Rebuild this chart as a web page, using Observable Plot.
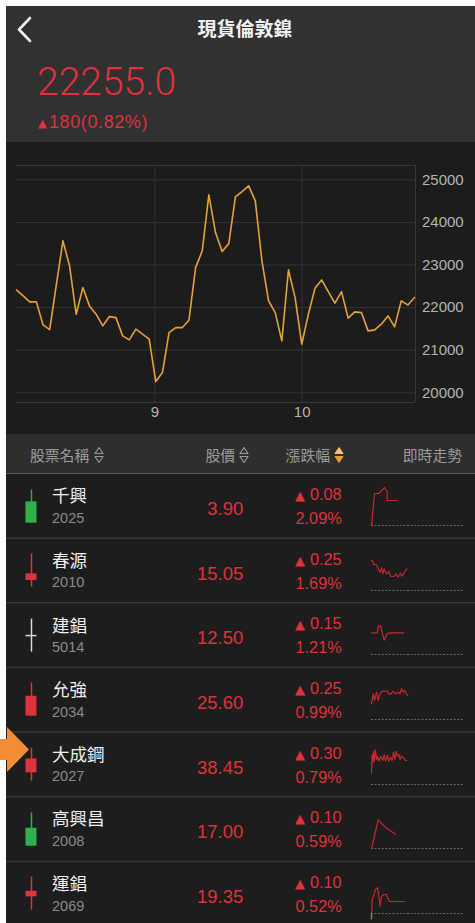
<!DOCTYPE html>
<html lang="zh-Hant">
<head>
<meta charset="utf-8">
<title>現貨倫敦鎳</title>
<script src="https://cdn.jsdelivr.net/npm/d3@7"></script>
<script src="https://cdn.jsdelivr.net/npm/@observablehq/plot@0.6"></script>
<style>
html,body{margin:0;padding:0;background:#ffffff;width:475px;height:923px;overflow:hidden;}
#page{position:relative;width:475px;height:923px;}
.abs{position:absolute;}
svg text{font-family:"Liberation Sans","Noto Sans CJK TC",sans-serif;}
</style>
</head>
<body>
<div id="page"></div>
<script>
// ---------------- DATA ----------------
const headerTitle = "現貨倫敦鎳";
const lastPrice = "22255.0";
const lastChange = "180(0.82%)";

// daily close of London nickel spot
const nickelValues = [
  22415, 22275, 22134, 22134, 21594, 21484, 22525, 23566, 22979, 21845,
  22470, 22040, 21845, 21570, 21789, 21765, 21336, 21242, 21493, 21375,
  21258, 20263, 20474, 21413, 21531, 21531, 21704, 22939, 23331, 24646,
  23761, 23315, 23502, 24599, 24723, 24857, 24505, 23096, 22157, 21883,
  21218, 22885, 22235, 21140, 21845, 22455, 22650, 22376, 22103, 22376,
  21751, 21899, 21883, 21453, 21477, 21610, 21805, 21547, 22157, 22063,
  22235
];
const xTickPos = [20.85, 43.07];
const xTickLabels = ["9", "10"];
const yTicks = [20000, 21000, 22000, 23000, 24000, 25000];

const columnLabels = ["股票名稱", "股價", "漲跌幅", "即時走勢"];

const stockNames   = ["千興", "春源", "建錩", "允強", "大成鋼", "高興昌", "運錩"];
const stockCodes   = ["2025", "2010", "5014", "2034", "2027", "2008", "2069"];
const stockPrices  = ["3.90", "15.05", "12.50", "25.60", "38.45", "17.00", "19.35"];
const stockChanges = ["0.08", "0.25", "0.15", "0.25", "0.30", "0.10", "0.10"];
const stockPcts    = ["2.09%", "1.69%", "1.21%", "0.99%", "0.79%", "0.59%", "0.52%"];

// day candles, normalised to the day's range (low = 0, high = 1)
const candleHigh  = [1, 1, 1, 1, 1, 1, 1];
const candleLow   = [0, 0, 0, 0, 0, 0, 0];
const candleOpen  = [0.64, 0.20, 0.50, 0.00, 0.25, 0.54, 0.40];
const candleClose = [0.00, 0.40, 0.50, 0.60, 0.67, 0.00, 0.57];

// intraday sparklines: [session %, change above previous close]
const spark2025 = [[0,0],[3.2,32],[7.9,32],[14,38],[16.8,34],[16.9,25],[28.3,25]];
const spark2010 = [[0,30],[1.4,29.3],[2.5,26],[5,26],[7.2,21.7],[9.3,18.3],[10.8,22.7],[12.2,16.7],[13.6,21.7],[15.1,18.3],[16.8,16.7],[18.6,19.3],[20.8,14],[24,14],[26.5,16.7],[28.7,13.3],[30.8,17.3],[33,14.3],[35.1,18],[36.6,20],[38,21.7]];
const spark5014 = [[0,21.7],[6.1,21.7],[7.2,28.3],[10,28.3],[11.5,21.7],[13.6,14.3],[16.8,21],[20.4,21.7],[34.8,21.7]];
const spark2034 = [[0,15.7],[1.8,25.7],[3.2,19],[5.4,27.3],[7.2,19],[9,25.7],[11.5,28.3],[16.8,28.3],[18.6,25.7],[21.1,25.7],[23.3,28.3],[25.8,25.7],[28.3,27.3],[30.5,25.7],[32.3,30.7],[34,27.3],[35.5,29],[37.6,25.7],[39,24]];
const spark2027 = [[0,11.7],[0.7,30],[1.4,21.7],[2.2,33.3],[3.2,23.3],[4.3,35],[5.4,25],[6.5,28.3],[7.9,23.3],[10,28.3],[12.2,24],[13.6,30],[15.1,23.3],[17.2,29.3],[18.6,23.3],[20.8,27.3],[22.2,24],[23.7,32.7],[25.1,25],[26.5,33.3],[28,28.3],[29.4,30],[30.8,25],[32.3,28.3],[34.4,26.7],[36.6,24],[38,24]];
const spark2008 = [[0,0],[7.2,28.7],[15.1,21],[25.8,14.3]];
const spark2069 = [[0,-6],[0.7,14],[2.2,17.3],[4.3,24],[6.5,25.7],[7.9,17.3],[9.3,7.3],[10.8,17.3],[13.3,19],[15.8,19],[17.2,15.7],[19.4,12],[25.8,12],[35.1,12]];
const sparklines = [spark2025, spark2010, spark5014, spark2034, spark2027, spark2008, spark2069];

// ---------------- STYLE ----------------
const RED = "#df333c";
const GREEN = "#2fb24b";
const WHITE = "#d9d9d9";
const FONT = "'Liberation Sans','Noto Sans CJK TC',sans-serif";

const page = d3.select("#page");

// background / static shapes
const bg = page.append("svg").attr("class", "abs")
  .style("left", "0px").style("top", "0px")
  .attr("width", 475).attr("height", 923);

bg.append("rect").attr("x", 6).attr("y", 6).attr("width", 469).attr("height", 136).attr("fill", "#313131");
bg.append("rect").attr("x", 6).attr("y", 142).attr("width", 469).attr("height", 292).attr("fill", "#1c1c1c");
bg.append("rect").attr("x", 6).attr("y", 434).attr("width", 469).attr("height", 39.5).attr("fill", "#2e2e2e");
bg.append("rect").attr("x", 6).attr("y", 473.5).attr("width", 469).attr("height", 449.5).attr("fill", "#1d1d1d");

// back chevron
bg.append("polyline").attr("points", "30,18 19,29.5 30,41")
  .attr("fill", "none").attr("stroke", "#f2f2f2").attr("stroke-width", 2.6)
  .attr("stroke-linecap", "round").attr("stroke-linejoin", "round");

bg.append("text").attr("x", 245).attr("y", 35.5).attr("text-anchor", "middle")
  .attr("fill", "#f2f2f2").attr("font-size", 19).attr("font-weight", 700).text(headerTitle);

bg.append("text").attr("x", 37).attr("y", 95)
  .attr("fill", RED).attr("font-size", 39).attr("font-weight", 300)
  .style("font-family", "Roboto,'Liberation Sans',sans-serif").text(lastPrice);

bg.append("text").attr("x", 38).attr("y", 127).attr("fill", RED)
  .attr("font-size", 11.5).style("font-family", "'DejaVu Sans',sans-serif").text("▲");
bg.append("text").attr("x", 49).attr("y", 128).attr("fill", RED)
  .attr("font-size", 18).attr("letter-spacing", 0.6).text(lastChange);

// table header
const headY = 460.5;
const headColor = "#9b9b9b";
bg.append("text").attr("x", 30).attr("y", headY).attr("fill", headColor).attr("font-size", 14.8).text(columnLabels[0]);
bg.append("text").attr("x", 235).attr("y", headY).attr("text-anchor", "end").attr("fill", headColor).attr("font-size", 14.8).text(columnLabels[1]);
bg.append("text").attr("x", 330).attr("y", headY).attr("text-anchor", "end").attr("fill", headColor).attr("font-size", 14.8).text(columnLabels[2]);
bg.append("text").attr("x", 462).attr("y", headY).attr("text-anchor", "end").attr("fill", headColor).attr("font-size", 14.8).text(columnLabels[3]);

function sortIcon(cx, active) {
  const cy = 455;
  const up = `${cx-4},${cy-1.5} ${cx},${cy-7.5} ${cx+4},${cy-1.5}`;
  const dn = `${cx-4},${cy+1.5} ${cx},${cy+7.5} ${cx+4},${cy+1.5}`;
  if (active) {
    bg.append("polygon").attr("points", up).attr("fill", "#f2c27a").attr("stroke", "#f2c27a").attr("stroke-width", 1).attr("stroke-linejoin", "round");
    bg.append("polygon").attr("points", dn).attr("fill", "#ec9a32").attr("stroke", "#ec9a32").attr("stroke-width", 1).attr("stroke-linejoin", "round");
  } else {
    bg.append("polygon").attr("points", up).attr("fill", "none").attr("stroke", headColor).attr("stroke-width", 1.1).attr("stroke-linejoin", "round");
    bg.append("polygon").attr("points", dn).attr("fill", "none").attr("stroke", headColor).attr("stroke-width", 1.1).attr("stroke-linejoin", "round");
  }
}
sortIcon(99, false);
sortIcon(244, false);
sortIcon(339, true);

// ---------------- MAIN CHART ----------------
const nickelSeries = nickelValues.map((v, i) => ({i, v}));
const xDom = [-0.15, 60.15];
const yDom = [19772, 25336];

const mainChart = Plot.plot({
  width: 469,
  height: 292,
  marginLeft: 9,
  marginRight: 60,
  marginTop: 23,
  marginBottom: 32,
  style: {background: "transparent", color: "#b5b5b5", fontFamily: FONT, fontSize: "15px"},
  x: {domain: xDom, axis: null},
  y: {domain: yDom, axis: null},
  marks: [
    Plot.gridY(yTicks, {stroke: "#343434", strokeOpacity: 1, strokeWidth: 1}),
    Plot.gridX(xTickPos, {stroke: "#343434", strokeOpacity: 1, strokeWidth: 1}),
    Plot.ruleY([yDom[0], yDom[1]], {stroke: "#383838", strokeWidth: 1}),
    Plot.ruleX([xDom[1]], {stroke: "#383838", strokeWidth: 1}),
    Plot.axisY(yTicks, {anchor: "right", label: null, tickSize: 0, tickPadding: 6.5, fontSize: 15, tickFormat: d3.format("d")}),
    Plot.axisX(xTickPos, {anchor: "bottom", label: null, tickSize: 0, tickPadding: 4, fontSize: 15,
      tickFormat: d => xTickLabels[xTickPos.indexOf(d)]}),
    Plot.line(nickelSeries, {x: "i", y: "v", stroke: "#e5a23b", strokeWidth: 1.6, strokeLinejoin: "round"})
  ]
});
page.append("div").attr("class", "abs")
  .style("left", "6px").style("top", "142px").style("width", "469px").style("height", "292px")
  .node().appendChild(mainChart);

// ---------------- TABLE ROWS ----------------
const rowTop0 = 473.5;
const rowPitch = 64.65;

stockNames.forEach((name, k) => {
  const top = rowTop0 + k * rowPitch;
  if (k > 0) {
    bg.append("line").attr("x1", 6).attr("x2", 475).attr("y1", top).attr("y2", top)
      .attr("stroke", "#363636").attr("stroke-width", 1.5);
  }
  bg.append("text").attr("x", 52).attr("y", top + 28.7).attr("fill", "#f0f0f0")
    .attr("font-size", 17.5).text(name);
  bg.append("text").attr("x", 52).attr("y", top + 49.2).attr("fill", "#8a8a8a")
    .attr("font-size", 14.5).text(stockCodes[k]);
  bg.append("text").attr("x", 243.3).attr("y", top + 41.5).attr("text-anchor", "end")
    .attr("fill", RED).attr("font-size", 18.5).text(stockPrices[k]);
  const ch = bg.append("text").attr("x", 341.7).attr("y", top + 26.5).attr("text-anchor", "end")
    .attr("fill", RED).attr("font-size", 16.3);
  ch.append("tspan").attr("font-size", 13).style("font-family", "'DejaVu Sans',sans-serif").text("▲");
  ch.append("tspan").attr("dx", 5).text(stockChanges[k]);
  bg.append("text").attr("x", 341.7).attr("y", top + 50.5).attr("text-anchor", "end")
    .attr("fill", RED).attr("font-size", 16.3).text(stockPcts[k]);

  // candle
  const c = {o: candleOpen[k], c: candleClose[k], h: candleHigh[k], l: candleLow[k]};
  const col = c.c > c.o ? RED : c.c < c.o ? GREEN : WHITE;
  const candleMarks = [
    Plot.ruleX([c], {x: () => 0, y1: "l", y2: "h", stroke: col, strokeWidth: 1.5})
  ];
  if (c.o !== c.c) {
    candleMarks.push(Plot.rect([c], {x1: () => -5.5, x2: () => 5.5, y1: "o", y2: "c", fill: col}));
  } else {
    candleMarks.push(Plot.ruleY([c], {y: "o", x1: () => -5.5, x2: () => 5.5, stroke: col, strokeWidth: 1.5}));
  }
  const candle = Plot.plot({
    width: 24, height: 64.65,
    marginLeft: 0, marginRight: 0, marginTop: 15.5, marginBottom: 16,
    style: {background: "transparent", overflow: "visible"},
    x: {domain: [-12, 12], axis: null},
    y: {domain: [0, 1], axis: null},
    marks: candleMarks
  });
  page.append("div").attr("class", "abs")
    .style("left", "19px").style("top", top + "px").style("width", "24px").style("height", "65px")
    .node().appendChild(candle);

  // sparkline
  const sp = sparklines[k];
  const sparkMarks = [
    Plot.ruleY([0], {stroke: "#6a6a6a", strokeWidth: 1, strokeDasharray: "2,1.6"}),
    Plot.line(sp, {x: d => d[0], y: d => d[1], stroke: "#c8272f", strokeWidth: 1.2, strokeLinejoin: "round"})
  ];
  if (sp[0][1] < 0) {
    sparkMarks.push(Plot.ruleX([sp[0]], {x: d => d[0], y1: d => d[1], y2: () => 0, stroke: GREEN, strokeWidth: 1.4}));
  }
  const spark = Plot.plot({
    width: 100, height: 50,
    marginLeft: 3, marginRight: 4, marginTop: 0, marginBottom: 0,
    style: {background: "transparent", overflow: "visible"},
    x: {domain: [0, 100], axis: null},
    y: {domain: [-8, 42], axis: null},
    marks: sparkMarks
  });
  page.append("div").attr("class", "abs")
    .style("left", "368px").style("top", (top + 9.5) + "px").style("width", "100px").style("height", "50px")
    .node().appendChild(spark);
});

// orange pointer arrow overlay
const fg = page.append("svg").attr("class", "abs")
  .style("left", "0px").style("top", "0px").style("pointer-events", "none")
  .attr("width", 475).attr("height", 923);
fg.append("polygon")
  .attr("points", "0,739 7,739 7,727 29,749.5 7,772 7,760 0,760")
  .attr("fill", "#f28c35");
</script>
</body>
</html>
